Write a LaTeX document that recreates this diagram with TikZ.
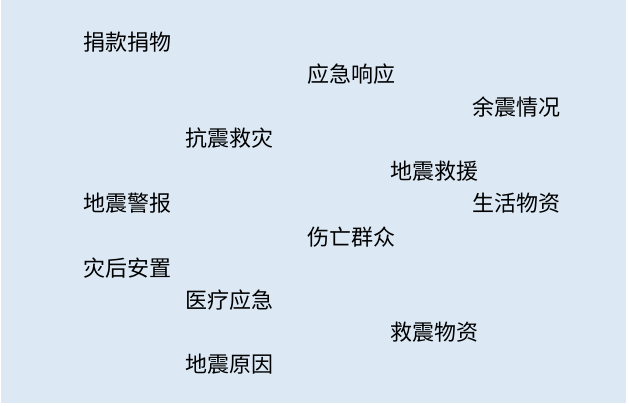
\documentclass[tikz,border=0pt]{standalone}
\usepackage{fontspec}
\newfontfamily\cjk{Noto Sans CJK SC}
\definecolor{bgblue}{RGB}{220,233,245}
\tikzset{lbl/.style={anchor=west,inner sep=0pt,font=\cjk\fontsize{22}{22}\selectfont,text=black}}
\begin{document}
\begin{tikzpicture}[x=1pt,y=1pt]
\useasboundingbox (0,0) rectangle (629,406);
\fill[bgblue] (1,3) rectangle (626,406);
\node[lbl] (n1) at (83,{406-42}) {捐款捐物};
\node[lbl] (n2) at (307,{406-74}) {应急响应};
\node[lbl] (n3) at (472,{406-107}) {余震情况};
\node[lbl] (n4) at (185,{406-138}) {抗震救灾};
\node[lbl] (n5) at (390,{406-171}) {地震救援};
\node[lbl] (n6) at (83,{406-203}) {地震警报};
\node[lbl] (n7) at (472,{406-203}) {生活物资};
\node[lbl] (n8) at (307,{406-237}) {伤亡群众};
\node[lbl] (n9) at (83,{406-268}) {灾后安置};
\node[lbl] (n10) at (185,{406-300}) {医疗应急};
\node[lbl] (n11) at (390,{406-332}) {救震物资};
\node[lbl] (n12) at (185,{406-364}) {地震原因};
\end{tikzpicture}
\end{document}
